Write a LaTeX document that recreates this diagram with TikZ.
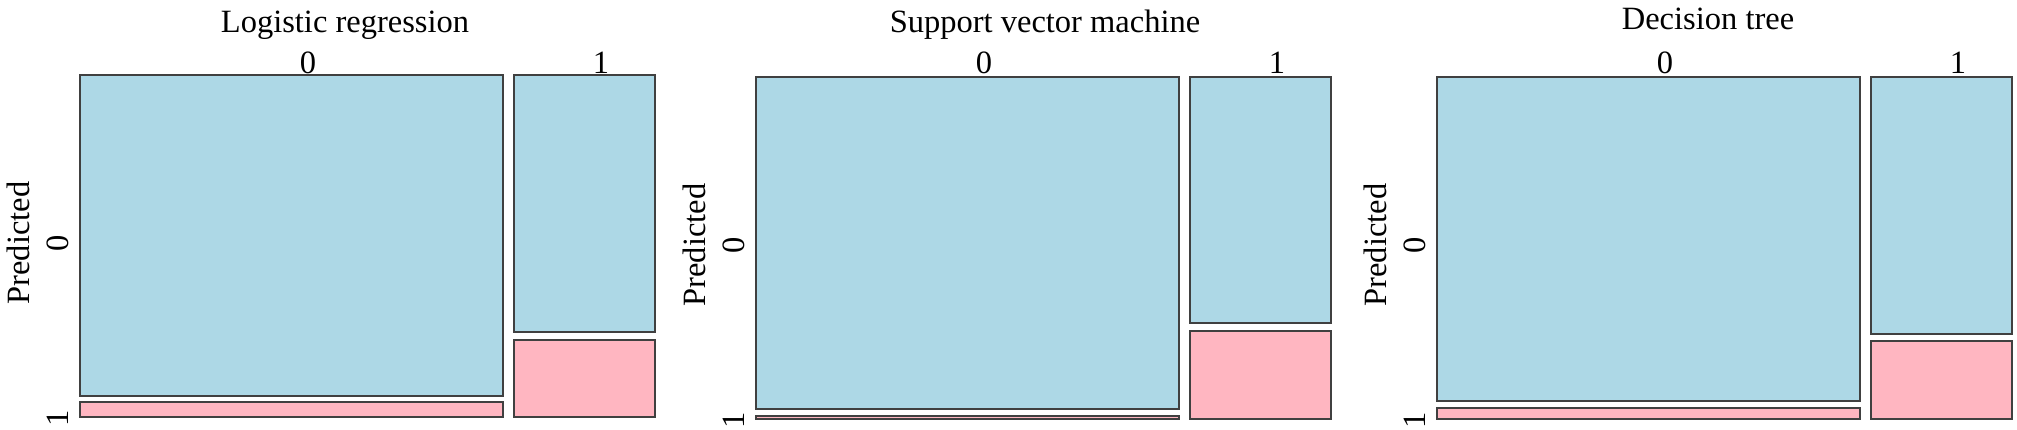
\documentclass[tikz,border=0pt]{standalone}
\usepackage{fontspec}
\setmainfont{Liberation Serif}
\definecolor{cellblue}{HTML}{ADD8E6}
\definecolor{cellpink}{HTML}{FFB6C1}
\begin{document}
\begin{tikzpicture}[x=1pt,y=-1pt,
  cell/.style={draw=black!75,line width=1.1pt},
  lab/.style={font=\fontsize{32.5}{36}\selectfont,inner sep=0pt,anchor=base}]
\useasboundingbox (0,0) rectangle (2017,429);
% one mosaic per model: left edge, cell bottoms, title
\foreach \i/\xa/\ya/\yb/\yc/\yd/\ye/\yz/\tx/\ty/\ttl in {
  1/80/75/396/402/332/340/417/345/32/Logistic regression,
  2/756/77/409/416/323/331/419/1045/32/Support vector machine,
  3/1437/77/401/408/334/341/419/1708/29/Decision tree}{
\draw[cell,fill=cellblue](\xa,\ya) rectangle (\xa+423,\yb);
\draw[cell,fill=cellpink](\xa,\yc) rectangle (\xa+423,\yz);
\draw[cell,fill=cellblue](\xa+434,\ya) rectangle (\xa+575,\yd);
\draw[cell,fill=cellpink](\xa+434,\ye) rectangle (\xa+575,\yz);
\node[lab] (title\i) at (\tx,\ty) {\ttl};
\node[lab] (colzero\i) at (\xa+228,73) {0};
\node[lab] (colone\i) at (\xa+521,73) {1};
\node[lab,rotate=90] (ylab\i) at (\xa-51,{(\ya+\yz)/2-3}) {Predicted};
\node[lab,rotate=90] (rowzero\i) at (\xa-12,{(\ya+\yz)/2-3}) {0};
\node[lab,rotate=90] (rowone\i) at (\xa-12,\yz+1) {1};
}
\end{tikzpicture}
\end{document}
